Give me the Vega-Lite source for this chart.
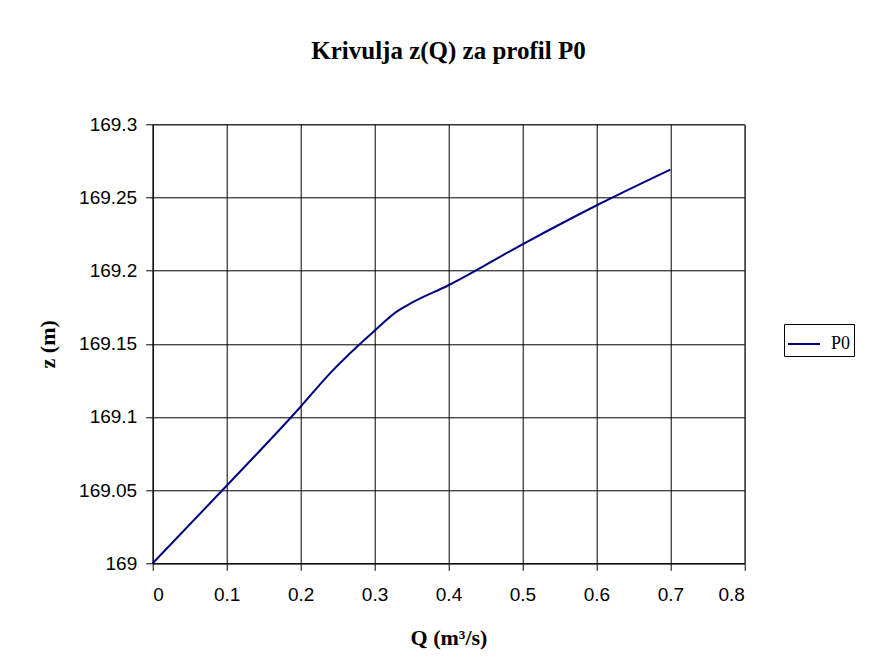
{
  "$schema": "https://vega.github.io/schema/vega-lite/v6.json",
  "autosize": "none",
  "width": 591.6,
  "height": 439,
  "padding": {"left": 152.7, "top": 124.3, "right": 131.7, "bottom": 106.7},
  "background": "white",
  "title": {
    "text": "Krivulja z(Q) za profil P0",
    "font": "Liberation Serif",
    "fontSize": 25,
    "fontWeight": "bold",
    "color": "black",
    "anchor": "middle",
    "baseline": "alphabetic",
    "offset": 31
  },
  "data": {
    "values": [
      {"Q": 0.0, "z": 169.0, "profil": "P0"},
      {"Q": 0.1, "z": 169.053, "profil": "P0"},
      {"Q": 0.2, "z": 169.107, "profil": "P0"},
      {"Q": 0.24, "z": 169.13, "profil": "P0"},
      {"Q": 0.3, "z": 169.159, "profil": "P0"},
      {"Q": 0.33, "z": 169.172, "profil": "P0"},
      {"Q": 0.35, "z": 169.178, "profil": "P0"},
      {"Q": 0.4, "z": 169.19, "profil": "P0"},
      {"Q": 0.5, "z": 169.218, "profil": "P0"},
      {"Q": 0.6, "z": 169.2445, "profil": "P0"},
      {"Q": 0.7, "z": 169.269, "profil": "P0"}
    ]
  },
  "mark": {"type": "line", "interpolate": "monotone", "strokeWidth": 2},
  "encoding": {
    "x": {
      "field": "Q",
      "type": "quantitative",
      "scale": {"domain": [0, 0.8], "nice": false, "zero": false},
      "axis": {
        "values": [0, 0.1, 0.2, 0.3, 0.4, 0.5, 0.6, 0.7, 0.8],
        "format": ".1~f",
        "title": "Q  (m³/s)",
        "titleX": 295.8,
        "titleY": 74,
        "titleBaseline": "middle",
        "titleAlign": "center"
      }
    },
    "y": {
      "field": "z",
      "type": "quantitative",
      "scale": {"domain": [169, 169.3], "nice": false, "zero": false},
      "axis": {
        "values": [169, 169.05, 169.1, 169.15, 169.2, 169.25, 169.3],
        "format": ".2~f",
        "title": "z (m)",
        "titleX": -105,
        "titleY": 219.5,
        "titleAngle": 270,
        "titleAlign": "center",
        "titleBaseline": "middle"
      }
    },
    "color": {
      "field": "profil",
      "type": "nominal",
      "scale": {"range": ["#000080"]},
      "legend": {
        "title": null,
        "orient": "none",
        "legendX": 631.3,
        "legendY": 199.7,
        "symbolType": "stroke",
        "symbolSize": 1024,
        "symbolStrokeWidth": 2,
        "labelFont": "Liberation Serif",
        "labelFontSize": 18,
        "labelColor": "black",
        "labelOffset": 10,
        "labelExpr": "datum.label + '\u00a0\u00a0\u00a0\u00a0\u00a0'",
        "padding": 3,
        "strokeColor": "black",
        "fillColor": "white"
      }
    }
  },
  "config": {
    "view": {"stroke": "#808080", "strokeWidth": 1},
    "axis": {
      "grid": true,
      "gridColor": "#000000",
      "gridOpacity": 1,
      "gridWidth": 1,
      "domainColor": "#000000",
      "domainWidth": 1,
      "tickColor": "#000000",
      "tickSize": 7,
      "tickWidth": 1,
      "labelFont": "Liberation Sans",
      "labelFontSize": 19,
      "labelColor": "black",
      "titleFont": "Liberation Serif",
      "titleFontSize": 22,
      "titleFontWeight": "bold",
      "titleColor": "black"
    },
    "axisX": {"labelPadding": 15},
    "axisY": {"labelPadding": 9}
  }
}
